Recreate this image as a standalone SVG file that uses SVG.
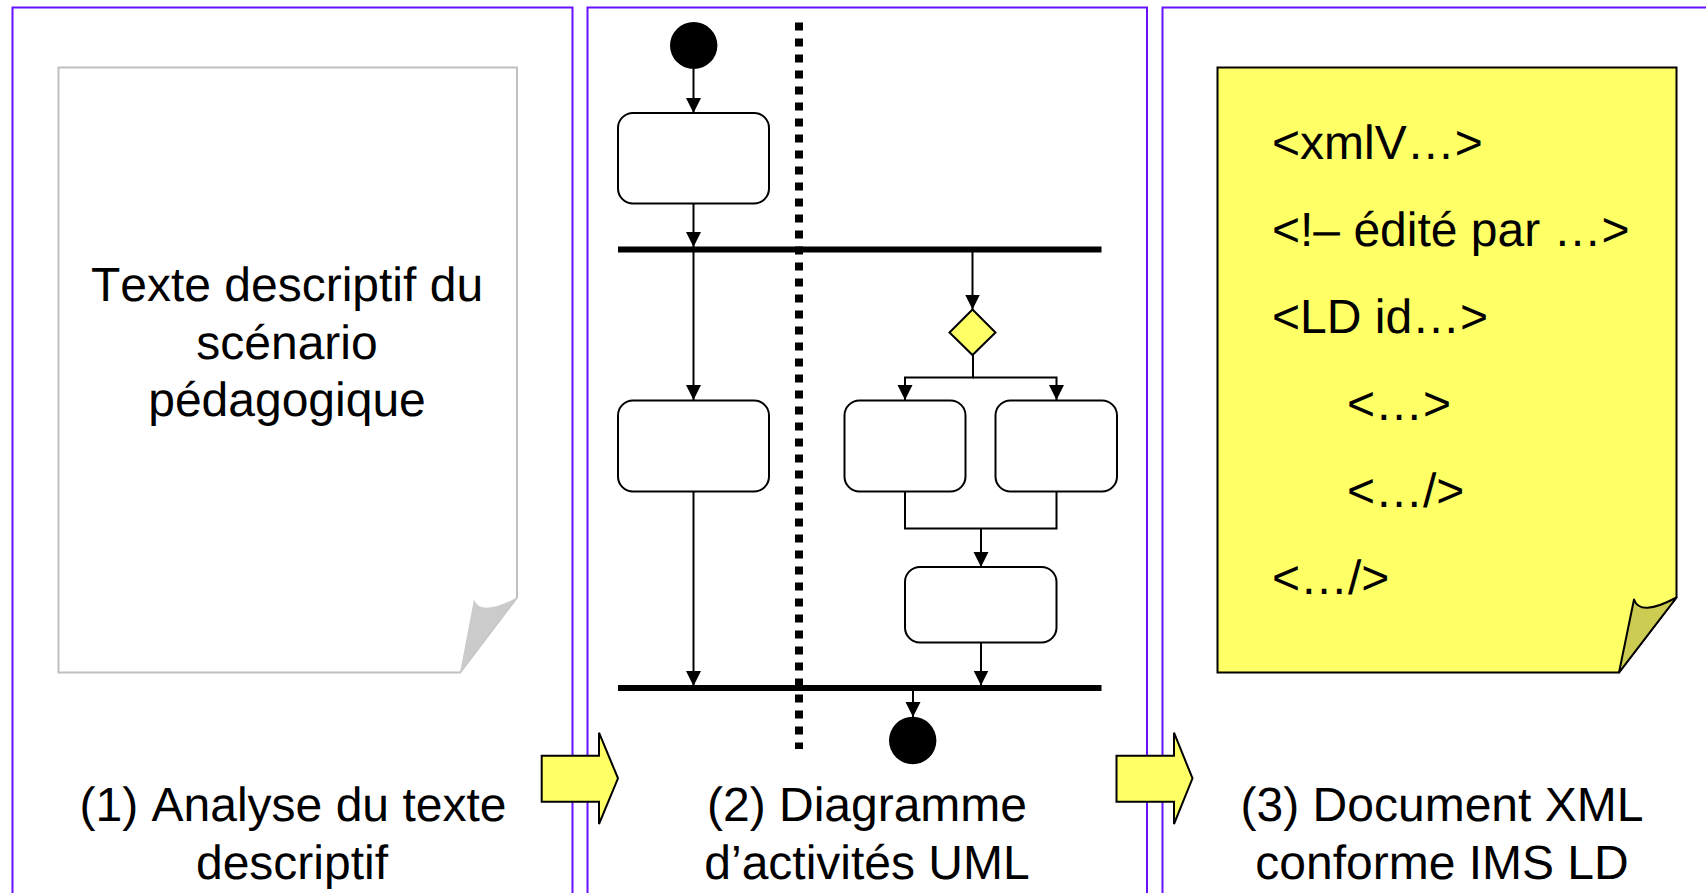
<svg xmlns="http://www.w3.org/2000/svg" width="1706" height="893" viewBox="0 0 1706 893">
<style>
.panel{fill:none;stroke:#6610ff;stroke-width:2}
.t{font-family:"Liberation Sans",Arial,sans-serif;font-size:48px;fill:#000;font-kerning:none;text-rendering:geometricPrecision}
.m{text-anchor:middle}
.act{fill:#fff;stroke:#000;stroke-width:2}
.c{fill:none;stroke:#000;stroke-width:2}
.bar{stroke:#000;stroke-width:6;fill:none}
.y{fill:#ffff66;stroke:#000;stroke-width:2}
.dn{fill:#000}
</style>
<defs>
<marker id="ah" markerUnits="userSpaceOnUse" markerWidth="16" markerHeight="16" refX="15" refY="8" orient="auto"><path d="M0 0.5L15 8L0 15.5Z" class="dn"/></marker>
</defs>
<rect x="0" y="0" width="1706" height="893" fill="#fff"/>
<g id="panel1"><rect class="panel" x="12.5" y="7.5" width="560" height="900"/></g>
<g id="panel2"><rect class="panel" x="587.5" y="7.5" width="559.5" height="900"/></g>
<g id="panel3"><rect class="panel" x="1162.5" y="7.5" width="560" height="900"/></g>
<g id="doc1">
<path d="M58.5 67.5H517V597.5L460 672.5H58.5Z" fill="#fff" stroke="#c0c0c0" stroke-width="2"/>
<path d="M460 672.5L474 599.5Q480 617 517 597.5Z" fill="#cbcbcb"/>
<text class="t m" x="287" y="301">Texte descriptif du</text>
<text class="t m" x="287" y="359">scénario</text>
<text class="t m" x="287" y="416">pédagogique</text>
</g>
<g id="label1"><text class="t m" x="293" y="820.5">(1) Analyse du texte</text><text class="t m" x="292" y="878.5">descriptif</text></g>
<g id="swimlane"><path d="M799 22.5V749" stroke="#000" stroke-width="8" stroke-dasharray="8 8" fill="none"/></g>
<g id="start"><ellipse cx="693.7" cy="45.5" rx="23.7" ry="23.5" fill="#000"/></g>
<g id="a1"><rect class="act" x="618" y="113" width="151" height="90.5" rx="15"/></g>
<g id="fork"><path class="bar" d="M618 249.5H1101.5"/></g>
<g id="a2"><rect class="act" x="618" y="400.5" width="151" height="91" rx="15"/></g>
<g id="decision"><path class="y" d="M972.5 309.5L995.5 332.5L972.5 355L949.5 332.5Z"/></g>
<g id="a3"><rect class="act" x="844.5" y="400.5" width="121" height="91" rx="15"/></g>
<g id="a4"><rect class="act" x="995.5" y="400.5" width="121.5" height="91" rx="15"/></g>
<g id="a5"><rect class="act" x="905" y="567" width="151.5" height="75.5" rx="15"/></g>
<g id="join"><path class="bar" d="M618 688H1101.5"/></g>
<g id="end"><circle cx="912.7" cy="740.5" r="23.7" fill="#000"/></g>
<g id="connectors">
<path class="c" marker-end="url(#ah)" d="M693.5 69V113"/>
<path class="c" marker-end="url(#ah)" d="M693.5 203.5V247"/>
<path class="c" marker-end="url(#ah)" d="M693.5 252V400"/>
<path class="c" marker-end="url(#ah)" d="M693.5 491.5V686"/>
<path class="c" marker-end="url(#ah)" d="M972.5 252V309.5"/>
<path class="c" marker-end="url(#ah)" d="M973 355V377.5H905V400"/>
<path class="c" marker-end="url(#ah)" d="M973 377.5H1056.5V400"/>
<path class="c" d="M905 491.5V528.5H1056.5V491.5"/>
<path class="c" marker-end="url(#ah)" d="M981 528.5V567"/>
<path class="c" marker-end="url(#ah)" d="M981 642.5V685.5"/>
<path class="c" marker-end="url(#ah)" d="M913 691V717"/>
</g>
<g id="arrow1"><path class="y" d="M541.7 755.7H599V732.7L618 778.3L599 824V801.7H541.7Z"/></g>
<g id="label2"><text class="t m" x="867" y="820.5">(2) Diagramme</text><text class="t m" x="867" y="878.5">d’activités UML</text></g>
<g id="arrow2"><path class="y" d="M1116.5 755.7H1174V732.7L1192.5 778.3L1174 824V801.7H1116.5Z"/></g>
<g id="doc3">
<path class="y" d="M1217.5 67.5H1676.5V597.5L1619 672.5H1217.5Z"/>
<path d="M1619 672.5L1634 599.5Q1640 617 1676.5 597.5Z" fill="#cccc52" stroke="#000" stroke-width="2" stroke-linejoin="round"/>
<text class="t" x="1272" y="159">&lt;xmlV…&gt;</text>
<text class="t" x="1272" y="246">&lt;!– édité par …&gt;</text>
<text class="t" x="1272" y="333">&lt;LD id…&gt;</text>
<text class="t" x="1347" y="420">&lt;…&gt;</text>
<text class="t" x="1347" y="507">&lt;…/&gt;</text>
<text class="t" x="1272" y="594">&lt;…/&gt;</text>
</g>
<g id="label3"><text class="t m" x="1442" y="820.5">(3) Document XML</text><text class="t m" x="1442" y="878.5">conforme IMS LD</text></g>
</svg>
